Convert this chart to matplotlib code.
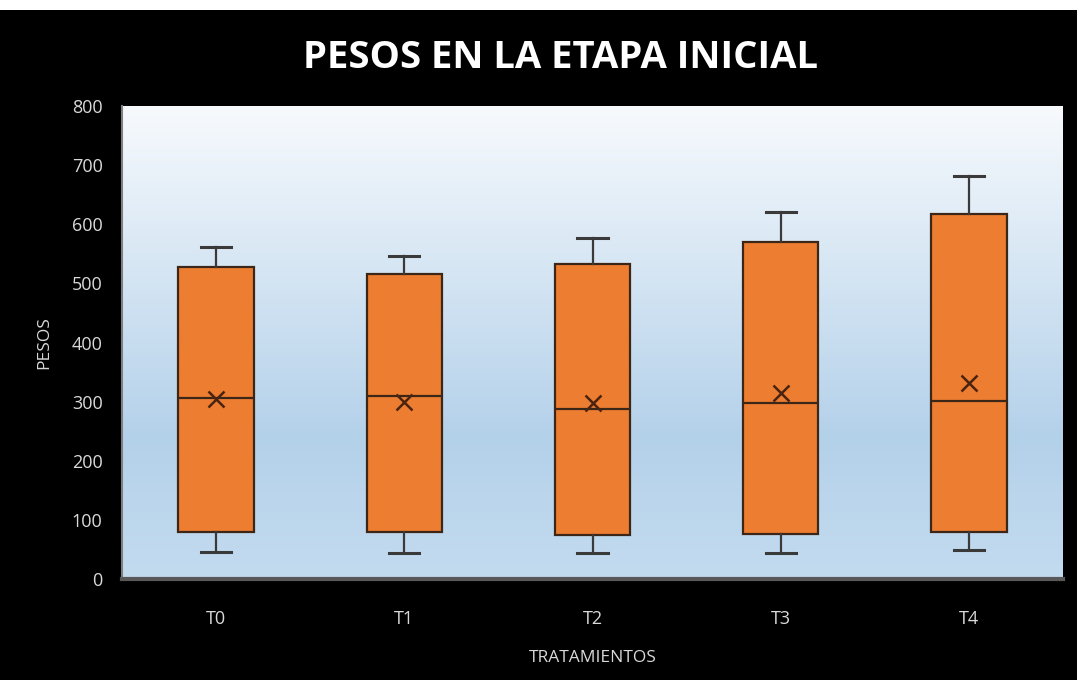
import numpy as np
import matplotlib
matplotlib.use('Agg')
import matplotlib.pyplot as plt
from matplotlib.colors import LinearSegmentedColormap
from matplotlib.patches import Rectangle

# datos
tratamientos = ['T0', 'T1', 'T2', 'T3', 'T4']
minimos = [46, 44, 44, 44, 49]
q1 = [80, 80, 75, 76, 80]
medianas = [306, 310, 288, 298, 301]
q3 = [528, 516, 533, 570, 618]
maximos = [562, 547, 577, 621, 682]
medias = [305, 300, 298, 315, 332]

plt.rcParams['font.family'] = ['Open Sans', 'DejaVu Sans']

fig = plt.figure(figsize=(10.77, 6.8), dpi=100, facecolor='black')
# franja blanca superior
fig.patches.append(Rectangle((0, 0.985), 1, 0.015, transform=fig.transFigure,
                             facecolor='white', edgecolor='none', zorder=-1))

ax = fig.add_axes([0.1133, 0.1485, 0.8737, 0.6956])

# fondo degradado (0 = abajo, 1 = arriba)
cmap = LinearSegmentedColormap.from_list('fondo', [(0, '#c3dbef'), (0.3, '#b4d1ea'), (1, '#f7fafd')])
grad = np.linspace(0, 1, 256).reshape(-1, 1)
ax.imshow(grad, cmap=cmap, aspect='auto', origin='lower',
          extent=[-0.5, 4.5, 0, 800], zorder=0)

stats = []
for i in range(len(tratamientos)):
    stats.append({'label': tratamientos[i], 'whislo': minimos[i], 'q1': q1[i],
                  'med': medianas[i], 'q3': q3[i], 'whishi': maximos[i],
                  'mean': medias[i], 'fliers': []})

ax.bxp(stats, positions=range(5), widths=0.4, patch_artist=True, showmeans=True,
       boxprops=dict(facecolor='#ED7D31', edgecolor='#3b2618', linewidth=1.6),
       medianprops=dict(color='#3b2618', linewidth=1.6),
       whiskerprops=dict(color='#3a3a3a', linewidth=1.6),
       capprops=dict(color='#3a3a3a', linewidth=2.2),
       capwidths=0.16,
       meanprops=dict(marker='x', markersize=12, markeredgecolor='#4a2410', markeredgewidth=1.8),
       zorder=3)

ax.set_xlim(-0.5, 4.5)
ax.set_ylim(0, 800)
ax.set_yticks(range(0, 801, 100))
ax.tick_params(length=0, colors='#d9d9d9', labelsize=13)
ax.tick_params(axis='x', pad=22)
ax.tick_params(axis='y', pad=14)

ax.spines['top'].set_visible(False)
ax.spines['right'].set_visible(False)
ax.spines['left'].set_color('#7f7f7f')
ax.spines['left'].set_linewidth(1.5)
ax.spines['bottom'].set_color('#595959')
ax.spines['bottom'].set_linewidth(3)

ax.set_ylabel('PESOS', color='#d9d9d9', fontsize=12.5, labelpad=14)
ax.set_xlabel('TRATAMIENTOS', color='#d9d9d9', fontsize=12.5, labelpad=16)

fig.text(0.52, 0.915, 'PESOS EN LA ETAPA INICIAL', color='white', fontsize=27.5,
         fontweight='bold', ha='center', va='center')

fig.savefig('out.png', dpi=100, facecolor='black')
